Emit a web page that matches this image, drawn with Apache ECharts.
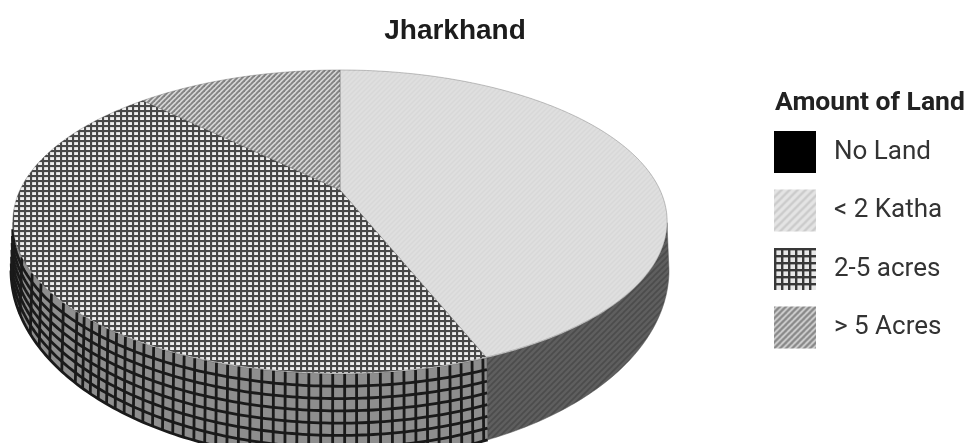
<!DOCTYPE html>
<html>
<head>
<meta charset="utf-8">
<style>html,body{margin:0;padding:0;background:#fff}#chart{width:966px;height:443px}</style>
<script src="https://cdn.jsdelivr.net/npm/echarts@6/dist/echarts.min.js"></script>
</head>
<body>
<div id="chart"></div>
<script>
// Share of households by amount of land held, in percent
const categories = ['No Land', '< 2 Katha', '2-5 acres', '> 5 Acres'];
const shares = [0, 44, 43.5, 12.5];
// Slices are laid out clockwise from twelve o'clock in this order
const sliceOrder = [1, 2, 3, 0];

// Builds a repeating tile for a hatched fill
function tile(w, h, paint) {
  const c = document.createElement('canvas');
  c.width = w; c.height = h;
  paint(c.getContext('2d'), w, h);
  return { image: c, repeat: 'repeat' };
}
function grid(cellW, cellH, bg, line, lw) {
  return tile(cellW, cellH, (g, w, h) => {
    g.fillStyle = bg; g.fillRect(0, 0, w, h);
    g.fillStyle = line;
    g.fillRect(0, 0, lw, h);
    g.fillRect(0, 0, w, lw);
  });
}
function diagonal(size, bg, line, lw) {
  return tile(size, size, (g, w, h) => {
    g.fillStyle = bg; g.fillRect(0, 0, w, h);
    g.strokeStyle = line; g.lineWidth = lw;
    for (let i = -1; i <= 1; i++) {
      g.beginPath();
      g.moveTo(i * w - 1, h + 1);
      g.lineTo(i * w + w + 1, -1);
      g.stroke();
    }
  });
}

const fills = {
  'No Land': '#000',
  '< 2 Katha': diagonal(5, '#dfdfdf', '#d8d8d8', 1.4),
  '2-5 acres': grid(6, 5, '#eeeeee', '#484848', 2.1),
  '> 5 Acres': diagonal(5, '#d6d6d6', '#828282', 1.9)
};
const keyFills = {
  'No Land': '#000',
  '< 2 Katha': diagonal(8, '#e4e4e4', '#cccccc', 2.4),
  '2-5 acres': grid(7, 7, '#e8e8e8', '#383838', 2.4),
  '> 5 Acres': diagonal(6, '#d4d4d4', '#8a8a8a', 2.4)
};
const kathaSide = diagonal(6, '#5f5f5f', '#4c4c4c', 1.6);

// Projection of the pie's top face and the outline of its lower edge
const cx = 340, apexY = 190, k = 0.208, faceA = 320, faceB = 145;
const topEllipse = { x: cx, y: 222, rx: 327, ry: 152 };
const baseEllipse = { x: cx, y: 270, rx: 329, ry: 190 };
const wallLine = { stroke: '#1a1a1a', lineWidth: 2.8, fill: null };

function project(phi) {
  const u = Math.sin(phi), v = -Math.cos(phi), w = 1 - k * v;
  return [cx + faceA * u / w, apexY + faceB * v / w];
}
function wallParam(p) {
  return Math.atan2((p[1] - topEllipse.y) / topEllipse.ry, (p[0] - topEllipse.x) / topEllipse.rx);
}
function onEllipse(e, t) {
  return [e.x + e.rx * Math.cos(t), e.y + e.ry * Math.sin(t)];
}
function lerp(a, b, f) {
  return [a[0] + (b[0] - a[0]) * f, a[1] + (b[1] - a[1]) * f];
}

const PI2 = Math.PI * 2;
const total = shares.reduce((a, b) => a + b, 0);
const startAngle = {};
let running = 0;
sliceOrder.forEach(i => { startAngle[categories[i]] = running / total * PI2; running += shares[i]; });

function renderSlice(name, value) {
  const a0 = startAngle[name], a1 = a0 + value / total * PI2;
  const steps = Math.max(2, Math.ceil((a1 - a0) * 90));
  const rim = [];
  for (let i = 0; i <= steps; i++) rim.push(project(a0 + (a1 - a0) * i / steps));

  const children = [];
  // Front wall: only the rim facing the viewer is visible
  const ts = rim.map(wallParam).filter(t => t >= 0 && t <= Math.PI).sort((a, b) => a - b);
  if (ts.length > 1) {
    const t0 = ts[0], t1 = ts[ts.length - 1];
    const wallSteps = Math.ceil((t1 - t0) * 60);
    const ring = f => {
      const line = [];
      for (let i = 0; i <= wallSteps; i++) {
        const t = t0 + (t1 - t0) * i / wallSteps;
        line.push(lerp(onEllipse(topEllipse, t), onEllipse(baseEllipse, t), f));
      }
      return line;
    };
    const gridded = name === '2-5 acres';
    children.push({
      type: 'polygon',
      shape: { points: ring(0).concat(ring(1).reverse()) },
      style: { fill: gridded ? '#8e8e8e' : kathaSide, stroke: '#555', lineWidth: 0.5 }
    });
    if (gridded) {
      for (let r = 1; r < 8; r++) {
        children.push({ type: 'polyline', shape: { points: ring(r / 7) }, style: wallLine });
      }
      // Wall verticals, thinned out where the curve turns away
      let lastX = -Infinity;
      for (let t = t1 - 0.05; t > t0; t -= 0.0365) {
        const a = onEllipse(topEllipse, t), b = onEllipse(baseEllipse, t);
        if (a[0] - lastX < 7) continue;
        lastX = a[0];
        children.push({
          type: 'line',
          shape: { x1: a[0], y1: a[1], x2: b[0], y2: b[1] },
          style: wallLine
        });
      }
    }
  }
  // Top face of the slice, closed at the pie's centre
  children.push({
    type: 'polygon',
    shape: { points: [[cx, apexY]].concat(rim) },
    style: { fill: fills[name], stroke: 'rgba(90,90,90,0.35)', lineWidth: 1 }
  });
  return { type: 'group', children };
}

const series = categories.map((name, i) => ({
  type: 'custom',
  name,
  coordinateSystem: 'none',
  silent: true,
  animation: false,
  itemStyle: { color: keyFills[name] },
  data: [shares[i]],
  renderItem: (params, api) => (shares[i] > 0 ? renderSlice(name, api.value(0)) : { type: 'group', children: [] })
}));

const chart = echarts.init(document.getElementById('chart'), null, { renderer: 'canvas' });
chart.setOption({
  animation: false,
  backgroundColor: '#fff',
  title: [
    { text: 'Jharkhand', left: 455, top: 17, textAlign: 'center', padding: 0,
      textStyle: { fontFamily: 'Liberation Sans', fontWeight: 'bold', fontSize: 28, color: '#1c1c1c' } },
    { text: 'Amount of Land', left: 775, top: 90, padding: 0,
      textStyle: { fontFamily: 'Roboto', fontWeight: 'bold', fontSize: 26.5, color: '#222' } }
  ],
  legend: {
    orient: 'vertical',
    left: 774, top: 131, padding: 0,
    itemWidth: 42, itemHeight: 42, itemGap: 16.5,
    icon: 'rect',
    selectedMode: false,
    data: categories,
    textStyle: { fontFamily: 'Roboto', fontSize: 26, color: '#333', padding: [0, 0, 0, 13] }
  },
  series
});
</script>
</body>
</html>
